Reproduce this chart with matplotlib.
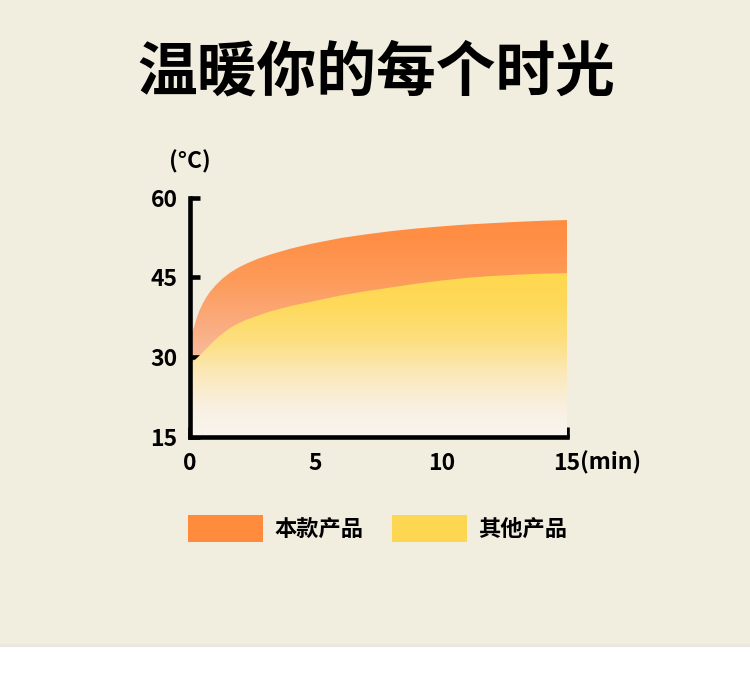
import numpy as np
import matplotlib
matplotlib.use('Agg')
import matplotlib.pyplot as plt
from matplotlib.colors import LinearSegmentedColormap
from matplotlib.patches import PathPatch, Rectangle

plt.rcParams['font.family'] = ['Noto Sans CJK SC', 'DejaVu Sans']

# values
title = '温暖你的每个时光'
series_names = ['本款产品', '其他产品']
ours_x = [0, 0.08, 0.17, 0.27, 0.37, 0.5, 0.64, 0.8, 1.04, 1.3, 1.6, 1.95, 2.3, 2.7,
          3.2, 4, 4.8, 6, 7, 8, 9, 10, 11, 12, 13, 14, 15]
ours_y = [33.5, 34.6, 35.8, 37.4, 38.7, 40.0, 41.2, 42.3, 43.6, 44.8, 45.9, 46.9, 47.7, 48.5,
          49.3, 50.4, 51.3, 52.4, 53.1, 53.7, 54.2, 54.6, 54.95, 55.2, 55.45, 55.65, 55.8]
other_x = [0, 0.1, 0.25, 0.45, 0.7, 0.9, 1.16, 1.4, 1.6, 1.95, 2.23, 2.7, 3.2, 4, 4.8,
           6, 7, 8, 9, 10, 11, 12, 13, 14, 15]
other_y = [28.5, 29.0, 29.7, 30.6, 31.8, 32.8, 33.9, 34.8, 35.5, 36.4, 37.0, 37.8, 38.6, 39.6, 40.4,
           41.6, 42.4, 43.1, 43.8, 44.4, 44.9, 45.25, 45.5, 45.7, 45.8]
xticks = [0, 5, 10, 15]
yticks = [15, 30, 45, 60]

bg = '#F1EDDF'
orange = '#FF8C3C'
yellow = '#FED752'

fig = plt.figure(figsize=(7.5, 6.85), dpi=100, facecolor=bg)
ax = fig.add_axes([190/750, 248.3/685, 377/750, 239/685])
ax.set_facecolor('none')
ax.set_xlim(0, 15)
ax.set_ylim(15, 60)


def gradient_area(x, y, stops, z):
    fb = ax.fill_between(x, y, 15, color='none', lw=0)
    patch = PathPatch(fb.get_paths()[0], transform=ax.transData, facecolor='none', edgecolor='none')
    ax.add_patch(patch)
    cmap = LinearSegmentedColormap.from_list('g', [((v - 15) / 45, c) for v, c in stops])
    grad = np.linspace(0, 1, 400).reshape(-1, 1)
    im = ax.imshow(grad, extent=[0, 15, 15, 60], origin='lower', aspect='auto',
                   cmap=cmap, vmin=0, vmax=1, zorder=z, interpolation='bilinear')
    im.set_clip_path(patch)


gradient_area(ours_x, ours_y,
              [(15, '#F9DDCC'), (28, '#F8C0A2'), (36, '#FAAC80'), (44, '#FD9C5C'),
               (52, '#FF8F46'), (60, '#FF893A')], 1)
gradient_area(other_x, other_y,
              [(15, '#F8F5F0'), (21, '#F9EFDF'), (27, '#FBE8B8'), (33, '#FDDF80'),
               (40, '#FED95A'), (46, '#FFD84E'), (60, '#FFD84E')], 2)

for s in ['top', 'right']:
    ax.spines[s].set_visible(False)
for s in ['left', 'bottom']:
    ax.spines[s].set_linewidth(3.3)
    ax.spines[s].set_color('black')
    ax.spines[s].set_capstyle('projecting')
    ax.spines[s].set_zorder(5)

ax.set_xticks(xticks)
ax.set_xticklabels(['0', '5', '10', '15'])
ax.set_yticks(yticks)
ax.tick_params(axis='both', direction='in', length=7, width=3.3, color='black',
               labelsize=16.5)
ax.tick_params(axis='x', pad=11)
ax.tick_params(axis='y', pad=9)
for lab in ax.get_xticklabels() + ax.get_yticklabels():
    lab.set_fontweight('bold')

fig.text(190/750, 1 - 162/685, '(°C)', ha='center', va='center', fontsize=16.5, fontweight='bold')
fig.text(580/750, 1 - 463/685, '(min)', ha='left', va='center', fontsize=16.5, fontweight='bold')

fig.text(376/750, 1 - 74/685, title, ha='center', va='center', fontsize=43, fontweight='bold')

# legend
for x0, col, name in [(188, orange, series_names[0]), (392, yellow, series_names[1])]:
    fig.add_artist(Rectangle((x0/750, 1 - 542/685), 75/750, 27/685,
                             transform=fig.transFigure, facecolor=col, edgecolor='none'))
    fig.text((x0 + 86)/750, 1 - 529/685, name, ha='left', va='center',
             fontsize=16, fontweight='bold')

# white strip at the bottom
fig.add_artist(Rectangle((0, 0), 1, 38/685, transform=fig.transFigure,
                         facecolor='white', edgecolor='none'))
fig.add_artist(Rectangle((0, 38/685), 1, 3/685, transform=fig.transFigure,
                         facecolor='#E9E7E0', edgecolor='none'))

fig.savefig('out.png', dpi=100, facecolor=bg)
